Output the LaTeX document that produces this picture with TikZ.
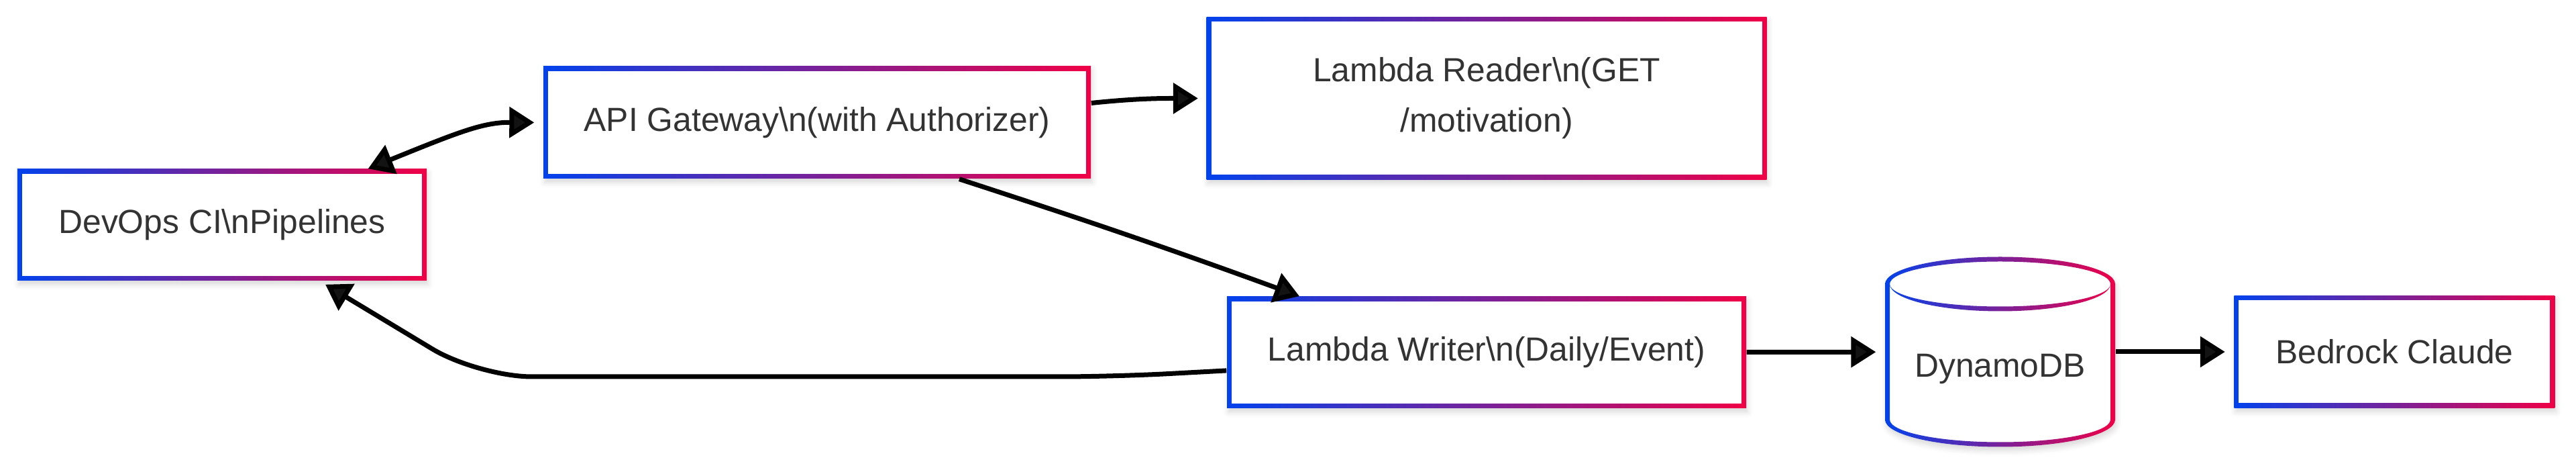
\documentclass[tikz,border=0pt]{standalone}
\usepackage{fontspec}
\setmainfont{Liberation Sans}
\usetikzlibrary{arrows.meta,positioning,shadows.blur}

\definecolor{gblue}{RGB}{2,66,236}
\definecolor{gred}{RGB}{240,0,70}
\definecolor{txtgray}{RGB}{51,51,51}

\tikzset{
  soft/.style={blur shadow={shadow xshift=0.02cm, shadow yshift=-0.06cm, shadow blur radius=0.08cm, shadow opacity=15}},
  gbox/.style={rectangle, inner sep=0pt, align=center, text=txtgray,
    left color=gblue, right color=gred, soft,
    path picture={\fill[white] ([shift={(0.07,0.07)}]path picture bounding box.south west) rectangle ([shift={(-0.07,-0.07)}]path picture bounding box.north east);}},
  dbnode/.style={rectangle, inner sep=0pt, minimum width=3.43cm, minimum height=2.82cm},
  flow/.style={line width=0.07cm, ->},
}

\begin{document}
\begin{tikzpicture}[font=\fontsize{14.17pt}{21.3pt}\selectfont, >={Triangle[length=0.37cm,width=0.45cm]}]
    \useasboundingbox (0,0) rectangle (38.4,-6.94);

    % the table, drawn as a cylinder with a shaded outline
    \path[fill=white, soft] (28.1,-4.23) arc[start angle=180,end angle=0,x radius=1.715,y radius=0.405]
        -- (31.53,-6.25) arc[start angle=0,end angle=-180,x radius=1.715,y radius=0.405] -- cycle;
    \begin{scope}[even odd rule]
        \clip
            (28.1,-4.23) arc[start angle=180,end angle=0,x radius=1.715,y radius=0.405]
            -- (31.53,-6.25) arc[start angle=0,end angle=-180,x radius=1.715,y radius=0.405] -- cycle
            (29.815,-4.23) ellipse[x radius=1.645,y radius=0.335]
            (28.17,-4.23) arc[start angle=180,end angle=360,x radius=1.645,y radius=0.405]
            -- (31.46,-6.25) arc[start angle=0,end angle=-180,x radius=1.645,y radius=0.335] -- cycle;
        \shade[left color=gblue, right color=gred] (28.1,-6.66) rectangle (31.53,-3.82);
    \end{scope}

    \node[gbox, minimum width=6.10cm, minimum height=1.66cm] (devops) at (3.31,-3.35) {DevOps CI\textbackslash nPipelines};
    \node[gbox, minimum width=8.16cm, minimum height=1.67cm] (gateway) at (12.18,-1.825) {API Gateway\textbackslash n(with Authorizer)};
    \node[gbox, minimum width=8.35cm, minimum height=2.42cm] (reader) at (22.16,-1.465) {Lambda Reader\textbackslash n(GET\\/motivation)};
    \node[gbox, minimum width=7.74cm, minimum height=1.66cm] (writer) [below=1.73cm of reader] {Lambda Writer\textbackslash n(Daily/Event)};
    \node[dbnode, label={[text=txtgray, yshift=-0.255cm]center:DynamoDB}] (dynamo) at (29.815,-5.24) {};
    \node[gbox, minimum width=4.78cm, minimum height=1.67cm] (bedrock) [right=1.76cm of dynamo] {Bedrock Claude};

    \draw[line width=0.07cm, <->] ([xshift=-0.88cm]devops.north east) .. controls (6.83,-1.97) and (7.2,-1.82) .. ([xshift=-0.13cm]gateway.west);
    \draw[flow, shorten >=0.12cm] ([yshift=0.29cm]gateway.east) to[out=6,in=180] (reader.west);
    \draw[flow] ([xshift=2.12cm]gateway.south) to[out=-18,in=160] ([xshift=-2.79cm]writer.north);
    \draw[flow, rounded corners=0.8cm] ([yshift=-0.27cm]writer.west) -- (16.6,-5.61) -- (7.13,-5.61)
        -- ([xshift=1.54cm,yshift=-0.05cm]devops.south);
    \draw[flow, shorten >=0.13cm]
        (writer) edge (dynamo)
        (dynamo) edge (bedrock);
\end{tikzpicture}
\end{document}
